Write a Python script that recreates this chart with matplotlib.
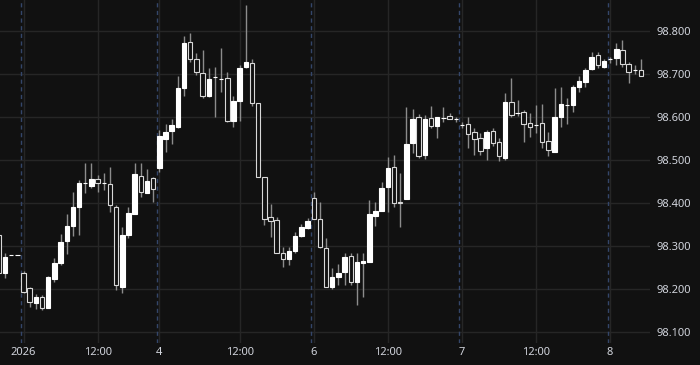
import numpy as np
import matplotlib
matplotlib.use("Agg")
import matplotlib.pyplot as plt

# hourly bars
opens = [98.326, 98.237, 98.279, 98.279, 98.237, 98.202, 98.167, 98.181, 98.156, 98.223,
         98.260, 98.312, 98.347, 98.391, 98.447, 98.440, 98.456, 98.447, 98.444, 98.391,
         98.205, 98.326, 98.374, 98.463, 98.423, 98.458, 98.481, 98.549, 98.567, 98.577,
         98.667, 98.774, 98.735, 98.702, 98.649, 98.693, 98.688, 98.691, 98.591, 98.637,
         98.716, 98.726, 98.633, 98.460, 98.367, 98.360, 98.284, 98.270, 98.288, 98.323,
         98.342, 98.412, 98.363, 98.295, 98.205, 98.228, 98.240, 98.277, 98.216, 98.260,
         98.263, 98.370, 98.381, 98.437, 98.484, 98.402, 98.409, 98.540, 98.600, 98.512,
         98.598, 98.579, 98.598, 98.602, 98.595, 98.581, 98.584, 98.565, 98.551, 98.528,
         98.567, 98.542, 98.505, 98.635, 98.609, 98.612, 98.586, 98.581, 98.586, 98.544,
         98.519, 98.600, 98.628, 98.628, 98.670, 98.681, 98.712, 98.744, 98.716, 98.735,
         98.737, 98.756, 98.723, 98.709, 98.709]
highs = [98.330, 98.284, 98.280, 98.279, 98.242, 98.205, 98.188, 98.186, 98.230, 98.272,
         98.328, 98.374, 98.426, 98.453, 98.493, 98.493, 98.465, 98.470, 98.484, 98.395,
         98.344, 98.391, 98.493, 98.493, 98.479, 98.460, 98.570, 98.584, 98.595, 98.695,
         98.788, 98.795, 98.749, 98.756, 98.714, 98.716, 98.760, 98.705, 98.649, 98.721,
         98.860, 98.735, 98.633, 98.460, 98.398, 98.367, 98.298, 98.298, 98.333, 98.351,
         98.365, 98.426, 98.402, 98.319, 98.249, 98.258, 98.284, 98.284, 98.284, 98.284,
         98.407, 98.402, 98.449, 98.507, 98.512, 98.470, 98.623, 98.619, 98.607, 98.605,
         98.626, 98.600, 98.623, 98.609, 98.600, 98.588, 98.600, 98.574, 98.563, 98.570,
         98.574, 98.551, 98.656, 98.691, 98.640, 98.616, 98.609, 98.628, 98.630, 98.565,
         98.667, 98.670, 98.644, 98.674, 98.695, 98.714, 98.751, 98.751, 98.735, 98.740,
         98.772, 98.779, 98.728, 98.721, 98.735]
lows = [98.230, 98.226, 98.278, 98.279, 98.191, 98.158, 98.153, 98.151, 98.156, 98.216,
        98.256, 98.281, 98.323, 98.326, 98.423, 98.435, 98.426, 98.430, 98.379, 98.198,
        98.191, 98.319, 98.374, 98.414, 98.423, 98.402, 98.472, 98.519, 98.537, 98.574,
        98.649, 98.728, 98.698, 98.644, 98.647, 98.600, 98.658, 98.588, 98.577, 98.591,
        98.714, 98.626, 98.460, 98.349, 98.321, 98.284, 98.251, 98.256, 98.284, 98.321,
        98.340, 98.363, 98.295, 98.205, 98.200, 98.209, 98.209, 98.209, 98.163, 98.181,
        98.263, 98.347, 98.381, 98.379, 98.391, 98.344, 98.409, 98.516, 98.505, 98.502,
        98.574, 98.551, 98.588, 98.595, 98.588, 98.574, 98.528, 98.512, 98.512, 98.500,
        98.533, 98.498, 98.500, 98.600, 98.602, 98.542, 98.553, 98.563, 98.528, 98.509,
        98.519, 98.577, 98.584, 98.612, 98.658, 98.670, 98.709, 98.714, 98.714, 98.726,
        98.721, 98.716, 98.679, 98.700, 98.695]
closes = [98.237, 98.274, 98.279, 98.279, 98.193, 98.170, 98.181, 98.156, 98.228, 98.260,
          98.309, 98.347, 98.391, 98.447, 98.447, 98.456, 98.447, 98.447, 98.395, 98.209,
          98.326, 98.377, 98.467, 98.426, 98.451, 98.433, 98.556, 98.565, 98.581, 98.667,
          98.772, 98.735, 98.705, 98.649, 98.688, 98.693, 98.688, 98.591, 98.637, 98.714,
          98.728, 98.633, 98.460, 98.363, 98.358, 98.284, 98.270, 98.288, 98.323, 98.344,
          98.358, 98.363, 98.298, 98.205, 98.228, 98.237, 98.274, 98.216, 98.263, 98.265,
          98.374, 98.381, 98.435, 98.481, 98.400, 98.400, 98.537, 98.595, 98.509, 98.595,
          98.579, 98.600, 98.598, 98.595, 98.595, 98.581, 98.560, 98.549, 98.521, 98.565,
          98.540, 98.509, 98.635, 98.605, 98.609, 98.584, 98.577, 98.581, 98.542, 98.523,
          98.600, 98.630, 98.628, 98.670, 98.684, 98.709, 98.740, 98.721, 98.730, 98.735,
          98.758, 98.723, 98.705, 98.709, 98.695]

tick_pos = [4, 16, 26, 39, 51, 63, 75, 87, 99]
tick_labels = ["2026", "12:00", "4", "12:00", "6", "12:00", "7", "12:00", "8"]
day_starts = [4, 26, 51, 75, 99]
y_ticks = [98.1, 98.2, 98.3, 98.4, 98.5, 98.6, 98.7, 98.8]

bg = "#111111"
grid_c = "#262626"
text_c = "#d1d4dc"

plt.rcParams['font.family'] = ['Noto Sans', 'DejaVu Sans']

o = np.array(opens)
h = np.array(highs)
l = np.array(lows)
c = np.array(closes)
x = np.arange(len(o))
up = c >= o

fig = plt.figure(figsize=(7, 3.65), dpi=100, facecolor=bg)
ax = fig.add_axes([0, 0.0603, 0.9286, 0.9397], facecolor=bg)

# grid
for v in y_ticks:
    ax.axhline(v, color=grid_c, lw=1, zorder=0)
for t in tick_pos:
    ax.axvline(t, color=grid_c, lw=1, zorder=0)
for d in day_starts:
    ax.axvline(d - 0.4, color="#34466a", lw=1, ls=(0, (3, 2.5)), zorder=0.5)

# wicks
ax.vlines(x, l, h, color="#8c8c8c", lw=1, zorder=1)

# bodies
bottoms = np.minimum(o, c)
heights = np.maximum(np.abs(c - o), 0.0006)
ax.bar(x[up], heights[up], bottom=bottoms[up], width=0.72,
       color="#ffffff", edgecolor="#ffffff", lw=0.8, zorder=2)
ax.bar(x[~up], heights[~up], bottom=bottoms[~up], width=0.72,
       color=bg, edgecolor="#d8d8d8", lw=0.8, zorder=2)

ax.set_xlim(0.194, 105.46)
ax.set_ylim(98.0744, 98.872)

ax.yaxis.tick_right()
ax.set_yticks(y_ticks)
ax.set_yticklabels(["%.3f" % v for v in y_ticks])
ax.set_xticks(tick_pos)
ax.set_xticklabels(tick_labels)
ax.xaxis.get_ticklabels()[0].set_fontweight("bold")
ax.tick_params(axis="both", length=0, colors=text_c, labelsize=8)
ax.tick_params(axis="y", pad=5)
ax.tick_params(axis="x", pad=3)
for s in ax.spines.values():
    s.set_visible(False)

fig.savefig("out.png", dpi=100, facecolor=bg)
